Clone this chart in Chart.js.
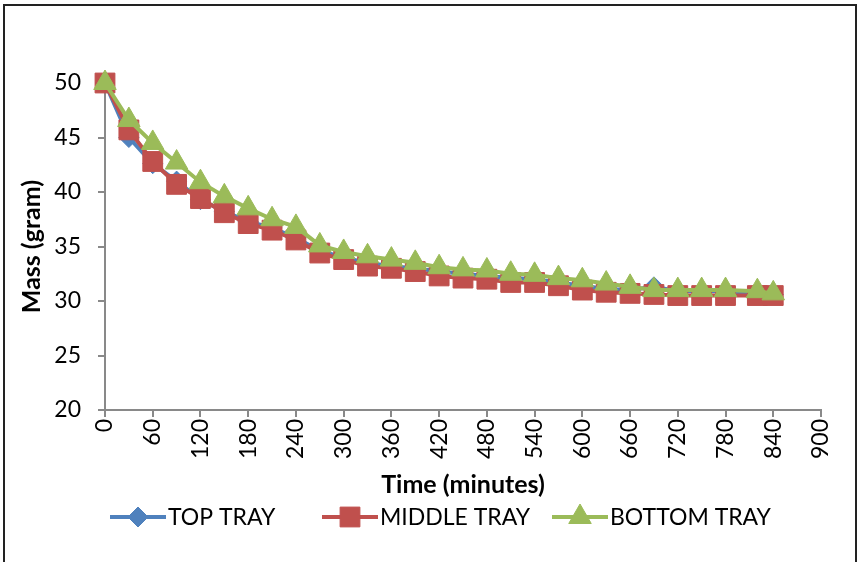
<!DOCTYPE html>
<html>
<head>
<meta charset="utf-8">
<script src="https://cdn.jsdelivr.net/npm/chart.js@4.4.1/dist/chart.umd.min.js"></script>
<style>
  html, body { margin: 0; padding: 0; background: #fff; }
  #wrap { position: relative; width: 862px; height: 562px; overflow: hidden; }
  #frame { position: absolute; left: 3px; top: 4px; width: 854px; height: 580px; border: 2px solid #222; box-sizing: border-box; pointer-events: none; }
  canvas { position: absolute; left: 0; top: 0; }
</style>
</head>
<body>
<div id="wrap">
  <canvas id="chart" width="862" height="562"></canvas>
  <div id="frame"></div>
</div>
<script>
// Drying data: mass of sample per tray over time
const times = [0, 30, 60, 90, 120, 150, 180, 210, 240, 270, 300, 330, 360, 390, 420,
               450, 480, 510, 540, 570, 600, 630, 660, 690, 720, 750, 780, 820, 840];
const topTray = [50, 45.0, 42.6, 41.0, 39.3, 38.2, 37.3, 36.7, 35.8, 34.6, 34.0, 33.5, 33.2, 33.0, 32.7,
                 32.5, 32.3, 32.1, 32.0, 31.7, 31.4, 31.1, 31.0, 31.3, 30.9, 30.9, 30.9, 30.7, 30.6];
const middleTray = [50, 45.7, 42.8, 40.7, 39.4, 38.1, 37.1, 36.5, 35.6, 34.4, 33.8, 33.2, 33.0, 32.7, 32.3,
                    32.1, 32.0, 31.7, 31.7, 31.4, 31.0, 30.8, 30.7, 30.6, 30.5, 30.5, 30.5, 30.5, 30.5];
const bottomTray = [50, 46.6, 44.5, 42.7, 40.9, 39.6, 38.5, 37.5, 36.8, 35.1, 34.5, 34.1, 33.8, 33.5, 33.1,
                    32.9, 32.8, 32.5, 32.4, 32.1, 31.9, 31.6, 31.3, 31.0, 31.0, 31.0, 31.0, 30.9, 30.7];
const seriesNames = ['TOP TRAY', 'MIDDLE TRAY', 'BOTTOM TRAY'];
const xTitle = 'Time (minutes)';
const yTitle = 'Mass (gram)';

const FONT = 'Lato, "Open Sans", sans-serif';
const AXIS_GREY = '#898989';

function toPoints(values) {
    return values.map((v, i) => ({ x: times[i], y: v }));
}

function makeSeries(label, values, color, style, radius, order) {
    return {
        label: label,
        data: toPoints(values),
        borderColor: color,
        backgroundColor: color,
        pointBackgroundColor: color,
        pointBorderColor: color,
        pointBorderWidth: 1,
        pointStyle: style,
        pointRadius: radius,
        pointHoverRadius: radius,
        borderWidth: 4,
        tension: 0,
        clip: false,
        order: order
    };
}

// Excel-like legend: line segment with marker, then the label
const legendStarts = [110, 322, 552];
const trayLegend = {
    id: 'trayLegend',
    afterDraw(chart) {
        const ctx = chart.ctx;
        const y = 517;
        ctx.save();
        ctx.font = '23px ' + FONT;
        ctx.textBaseline = 'middle';
        ctx.textAlign = 'left';
        chart.data.datasets.forEach((ds, i) => {
            const x = legendStarts[i];
            ctx.strokeStyle = ds.borderColor;
            ctx.lineWidth = 4;
            ctx.beginPath();
            ctx.moveTo(x, y);
            ctx.lineTo(x + 56, y);
            ctx.stroke();
            ctx.fillStyle = ds.pointBackgroundColor;
            ctx.strokeStyle = ds.pointBorderColor;
            ctx.lineWidth = 1;
            Chart.helpers.drawPoint(ctx, { pointStyle: ds.pointStyle, radius: ds.pointRadius, borderWidth: 1 }, x + 28, y);
            ctx.fillStyle = '#000';
            ctx.fillText(ds.label, x + 58, y + 1);
        });
        ctx.restore();
    }
};

const ctx = document.getElementById('chart').getContext('2d');
const chart = new Chart(ctx, {
    type: 'line',
    data: {
        datasets: [
            makeSeries(seriesNames[0], topTray, '#4F81BD', 'rectRot', 10, 3),
            makeSeries(seriesNames[1], middleTray, '#C0504D', 'rect', 14, 2),
            makeSeries(seriesNames[2], bottomTray, '#9BBB59', 'triangle', 13, 1)
        ]
    },
    options: {
        responsive: false,
        animation: false,
        devicePixelRatio: 1,
        layout: { padding: { left: 0, right: 41, top: 83, bottom: 62 } },
        plugins: {
            legend: { display: false },
            tooltip: { enabled: false }
        },
        scales: {
            x: {
                type: 'linear',
                min: 0,
                max: 900,
                afterFit: (scale) => { scale.height = 90; },
                border: { color: AXIS_GREY, width: 2 },
                grid: { drawOnChartArea: false, drawTicks: true, tickLength: 7, color: AXIS_GREY, lineWidth: 2 },
                ticks: {
                    stepSize: 60,
                    autoSkip: false,
                    minRotation: 90,
                    maxRotation: 90,
                    padding: 2,
                    color: '#000',
                    font: { family: FONT, size: 23 }
                },
                title: {
                    display: true,
                    text: xTitle,
                    color: '#000',
                    padding: { top: 0, bottom: 0 },
                    font: { family: FONT, size: 25, weight: 'bold' }
                }
            },
            y: {
                min: 20,
                max: 50,
                afterFit: (scale) => { scale.width = 105; },
                border: { color: AXIS_GREY, width: 2 },
                grid: { drawOnChartArea: false, drawTicks: true, tickLength: 7, color: AXIS_GREY, lineWidth: 2 },
                ticks: {
                    stepSize: 5,
                    padding: 17,
                    color: '#000',
                    font: { family: FONT, size: 23 }
                },
                title: {
                    display: true,
                    text: yTitle,
                    color: '#000',
                    padding: { top: 17, bottom: 0 },
                    font: { family: FONT, size: 25, weight: 'bold' }
                }
            }
        }
    },
    plugins: [trayLegend]
});
</script>
</body>
</html>
